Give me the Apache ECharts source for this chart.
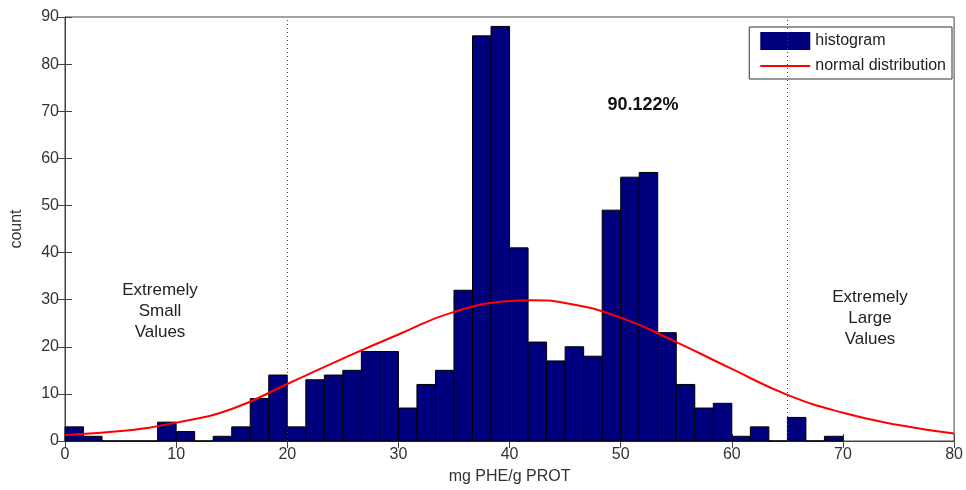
<!DOCTYPE html>
<html>
<head>
<meta charset="utf-8">
<script src="https://cdn.jsdelivr.net/npm/echarts@6/dist/echarts.min.js"></script>
<style>
  html, body { margin: 0; padding: 0; background: #fff; }
  #container { width: 966px; height: 490px; }
</style>
</head>
<body>
<div id="container"></div>
<script>
// histogram bins (mg PHE/g PROT), 42 bins of width 5/3 from 0 to 70
var binEdges = [0, 1.667, 3.333, 5, 6.667, 8.333, 10, 11.667, 13.333, 15, 16.667, 18.333,
  20, 21.667, 23.333, 25, 26.667, 28.333, 30, 31.667, 33.333, 35, 36.667, 38.333,
  40, 41.667, 43.333, 45, 46.667, 48.333, 50, 51.667, 53.333, 55, 56.667, 58.333,
  60, 61.667, 63.333, 65, 66.667, 68.333, 70];
var counts = [3, 1, 0, 0, 0, 4, 2, 0, 1, 3, 9, 14,
  3, 13, 14, 15, 19, 19, 7, 12, 15, 32, 86, 88,
  41, 21, 17, 20, 18, 49, 56, 57, 23, 12, 7, 8,
  1, 3, 0, 5, 0, 1];
// fitted normal curve
var curveX = [0, 5, 10, 15, 20, 25, 30, 35, 40, 42, 45, 50, 55, 60, 65, 70, 75, 80];
var curveY = [1.3, 2.1, 3.9, 6.8, 12.1, 17.5, 22.6, 27.4, 29.7, 29.9, 29.3, 26.2, 21.0, 15.3, 9.8, 6.0, 3.4, 1.6];
var xTicks = [0, 10, 20, 30, 40, 50, 60, 70, 80];
var yTicks = [0, 10, 20, 30, 40, 50, 60, 70, 80, 90];
var cutoffs = [20, 65];

var dom = document.getElementById('container');
var myChart = echarts.init(dom);

var histData = [];
for (var i = 0; i < counts.length; i++) {
  histData.push([binEdges[i], binEdges[i + 1], counts[i]]);
}
var curveData = [];
for (var j = 0; j < curveX.length; j++) {
  curveData.push([curveX[j], curveY[j]]);
}

var font = 'Liberation Sans, Arial, sans-serif';
var axisBase = {
  axisLine: { show: true, lineStyle: { color: '#444', width: 1 } },
  axisTick: { show: true, inside: true, length: 7, lineStyle: { color: '#444' } },
  splitLine: { show: false }
};

var option = {
  animation: false,
  backgroundColor: '#fff',
  grid: { left: 65, right: 6, top: 17, bottom: 44, show: true, borderColor: '#444', borderWidth: 1 },
  legend: {
    orient: 'vertical',
    right: 14,
    top: 27,
    backgroundColor: '#fff',
    borderColor: '#333',
    borderWidth: 1,
    padding: [5, 6, 4, 11],
    itemGap: 7,
    itemWidth: 50,
    itemHeight: 18,
    textStyle: { fontFamily: font, fontSize: 16, color: '#222' },
    data: [
      { name: 'histogram', icon: 'rect' },
      { name: 'normal distribution', icon: 'path://M0,0L0,0M0,8L50,8L50,10L0,10ZM0,18L0,18' }
    ]
  },
  xAxis: [
    Object.assign({
      type: 'value', min: xTicks[0], max: xTicks[xTicks.length - 1], interval: 10,
      name: 'mg PHE/g PROT', nameLocation: 'middle', nameGap: 28,
      nameTextStyle: { fontFamily: font, fontSize: 16, color: '#333' },
      axisLabel: { margin: 6, fontFamily: font, fontSize: 16, color: '#333' }
    }, axisBase),
    Object.assign({
      type: 'value', position: 'top', min: xTicks[0], max: xTicks[xTicks.length - 1], interval: 10,
      axisLabel: { show: false }
    }, axisBase)
  ],
  yAxis: [
    Object.assign({
      type: 'value', min: yTicks[0], max: yTicks[yTicks.length - 1], interval: 10,
      name: 'count', nameLocation: 'middle', nameGap: 40,
      nameTextStyle: { fontFamily: font, fontSize: 16, color: '#333' },
      axisLabel: { margin: 6, fontFamily: font, fontSize: 16, color: '#333' }
    }, axisBase),
    Object.assign({
      type: 'value', position: 'right', min: yTicks[0], max: yTicks[yTicks.length - 1], interval: 10,
      axisLabel: { show: false }
    }, axisBase)
  ],
  graphic: [
    {
      type: 'text', x: 643, y: 105,
      style: { text: '90.122%', fill: '#111', font: 'bold 18px ' + font, align: 'center', verticalAlign: 'middle' }
    },
    {
      type: 'text', x: 160, y: 311,
      style: { text: 'Extremely\nSmall\nValues', fill: '#222', font: '17px ' + font, align: 'center', verticalAlign: 'middle', lineHeight: 21 }
    },
    {
      type: 'text', x: 870, y: 318,
      style: { text: 'Extremely\nLarge\nValues', fill: '#222', font: '17px ' + font, align: 'center', verticalAlign: 'middle', lineHeight: 21 }
    }
  ],
  series: [
    {
      name: 'histogram',
      type: 'custom',
      itemStyle: { color: '#00007f' },
      encode: { x: [0, 1], y: 2 },
      renderItem: function (params, api) {
        var p0 = api.coord([api.value(0), 0]);
        var p1 = api.coord([api.value(1), api.value(2)]);
        return {
          type: 'rect',
          shape: { x: p0[0], y: p1[1], width: p1[0] - p0[0], height: p0[1] - p1[1] },
          style: { fill: '#00007f', stroke: '#000', lineWidth: 1 }
        };
      },
      data: histData,
      markLine: {
        silent: true,
        symbol: 'none',
        label: { show: false },
        lineStyle: { color: '#444', type: [1, 3], width: 1 },
        data: cutoffs.map(function (v) { return { xAxis: v }; })
      },
      z: 2
    },
    {
      name: 'normal distribution',
      type: 'line',
      smooth: true,
      symbol: 'none',
      lineStyle: { color: '#ff0000', width: 2 },
      itemStyle: { color: '#ff0000' },
      data: curveData,
      z: 3
    }
  ]
};

myChart.setOption(option);
</script>
</body>
</html>
